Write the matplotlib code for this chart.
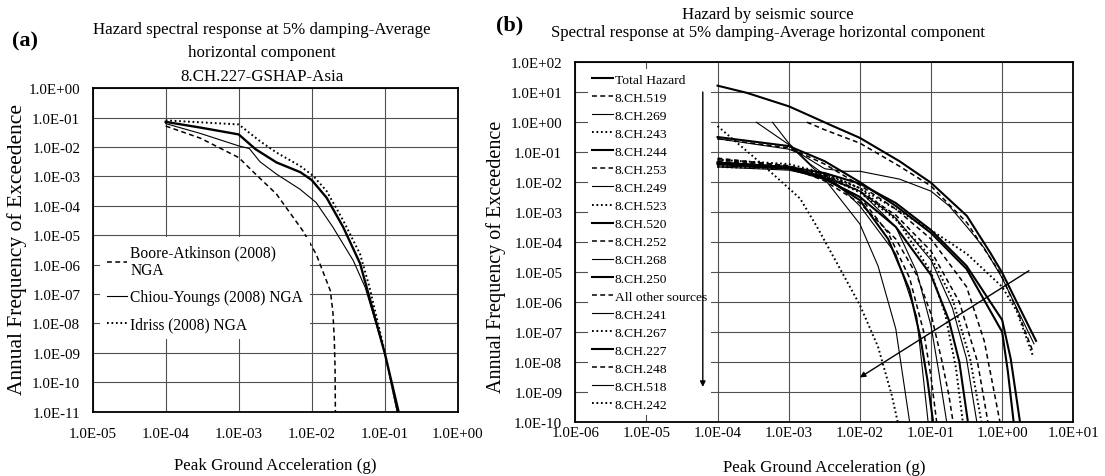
import numpy as np
import matplotlib.pyplot as plt
from matplotlib.ticker import FuncFormatter, NullLocator

plt.rcParams['font.family'] = ['Liberation Serif', 'DejaVu Serif']

# ---- panel (a): hazard curves for one source, three GMPEs + mean ----
ba_pga = [1e-4, 3e-4, 1e-3, 1.6e-3, 3.3e-3, 7.6e-3, 1.15e-2, 1.8e-2, 1.95e-2, 2.04e-2, 2.09e-2, 2.11e-2]
ba_afe = [5.2e-2, 2.0e-2, 4.4e-3, 1.4e-3, 2.5e-4, 1.4e-5, 2.3e-6, 1.3e-7, 2.5e-8, 3e-9, 3e-10, 1e-11]

cy_pga = [1e-4, 3e-4, 1e-3, 1.4e-3, 1.95e-3, 3.3e-3, 6.9e-3, 1.15e-2, 1.95e-2, 3.7e-2, 5.4e-2, 1e-1, 1.48e-1]
cy_afe = [6.3e-2, 2.9e-2, 1.1e-2, 8.9e-3, 3.2e-3, 1.2e-3, 3.7e-4, 1.3e-4, 1.9e-5, 1.4e-6, 1.7e-7, 1e-9, 1e-11]

id_pga = [1e-4, 1e-3, 1.95e-3, 3.3e-3, 6.9e-3, 1.05e-2, 1.6e-2, 2.7e-2, 4.6e-2, 6.2e-2, 1e-1, 1.5e-1]
id_afe = [8.1e-2, 5.9e-2, 1.6e-2, 6.5e-3, 2.3e-3, 1.05e-3, 3.2e-4, 3.2e-5, 2.3e-6, 1.7e-7, 1.1e-9, 1e-11]

mean_pga = [1e-4, 3e-4, 1e-3, 1.7e-3, 3.3e-3, 7e-3, 1e-2, 1.6e-2, 2.7e-2, 4.6e-2, 7e-2, 1e-1, 1.55e-1]
mean_afe = [7.2e-2, 4.6e-2, 2.7e-2, 8.5e-3, 3.0e-3, 1.4e-3, 7.6e-4, 1.9e-4, 1.9e-5, 1.1e-6, 2.5e-8, 1e-9, 1e-11]

# ---- panel (b): hazard by seismic source ----
total_pga = [1e-4, 2.6e-4, 1e-3, 1.45e-3, 4.2e-3, 1e-2, 3.6e-2, 1e-1, 3.2e-1, 6.8e-1, 1.0, 1.6, 2.45, 3.0]
total_afe = [16.6, 9.5, 3.4, 2.3, 0.74, 0.30, 5e-2, 9.5e-3, 7.4e-4, 4.4e-5, 9.5e-6, 1e-6, 1.3e-7, 5e-8]

s519_pga = [1.8e-3, 3.2e-3, 1e-2, 3.6e-2, 1e-1, 3.2e-1, 9.3e-1, 1.6, 2.75]
s519_afe = [1.0, 0.56, 0.2, 3.4e-2, 7.4e-3, 4.4e-4, 9.5e-6, 5.8e-7, 2e-8]

s269_pga = [1e-4, 1e-3, 1.45e-3, 3.2e-3, 6e-3, 1e-2, 3.6e-2, 1e-1, 1.8e-1, 3.2e-1, 5.6e-1, 1.0, 1.6, 2.8]
s269_afe = [0.28, 0.126, 8.9e-2, 2.8e-2, 2.3e-2, 2.3e-2, 1.26e-2, 5e-3, 1.6e-3, 3.2e-4, 6.3e-5, 6.3e-6, 6.3e-7, 4e-8]

s243_pga = [1e-4, 1e-3, 3.2e-3, 1e-2, 3.2e-2, 1e-1, 3.2e-1, 1.0, 1.6, 2.7]
s243_afe = [5.6e-2, 4e-2, 2e-2, 6.3e-3, 1.26e-3, 2.5e-4, 4e-5, 3.2e-6, 5e-7, 1.6e-8]

s244_pga = [1e-4, 1e-3, 3.2e-3, 1e-2, 2.5e-2, 5e-2, 7.1e-2, 8.9e-2, 0.107]
s244_afe = [4.5e-2, 3.2e-2, 1.4e-2, 2.5e-3, 1.26e-4, 2.5e-6, 6.3e-8, 2.5e-9, 1e-10]

s253_pga = [1e-4, 1e-3, 3.2e-3, 1e-2, 2.5e-2, 5e-2, 7.9e-2, 0.1, 0.12]
s253_afe = [6.3e-2, 3.5e-2, 1.26e-2, 3.2e-3, 2e-4, 6.3e-6, 1e-7, 3.2e-9, 1e-10]

s249_pga = [1e-4, 1e-3, 3.2e-3, 1e-2, 3.2e-2, 6.3e-2, 0.1, 0.13, 0.166]
s249_afe = [3.5e-2, 2.8e-2, 1.6e-2, 5e-3, 3.2e-4, 1e-5, 1.6e-7, 4e-9, 1e-10]

s523_pga = [1e-4, 1e-3, 3.2e-3, 1e-2, 3.2e-2, 0.1, 0.158, 0.224, 0.28]
s523_afe = [3.2e-2, 2.8e-2, 1.8e-2, 6.3e-3, 6.3e-4, 1e-5, 4e-7, 6.3e-9, 1e-10]

s520_pga = [1e-4, 1e-3, 3.2e-3, 1e-2, 3.2e-2, 0.1, 0.178, 0.25, 0.33]
s520_afe = [4e-2, 2.8e-2, 1.26e-2, 3.2e-3, 3.2e-4, 7.9e-6, 2.5e-7, 1e-8, 1e-10]

s252_pga = [1e-4, 1e-3, 3.2e-3, 1e-2, 3.2e-2, 6.3e-2, 0.1, 0.14, 0.178, 0.204]
s252_afe = [5e-2, 3.2e-2, 1.1e-2, 2e-3, 1.26e-4, 7.9e-6, 4e-7, 1.26e-8, 7.9e-10, 1e-10]

s268_pga = [1e-4, 1e-3, 3.2e-3, 1e-2, 3.2e-2, 0.1, 0.2, 0.316, 0.44]
s268_afe = [3.2e-2, 2.5e-2, 1.4e-2, 5e-3, 6.3e-4, 2.5e-5, 6.3e-7, 1.26e-8, 1e-10]

s250_pga = [1e-4, 1e-3, 3.2e-3, 1e-2, 3.2e-2, 0.1, 0.316, 1.0, 1.32, 1.78]
s250_afe = [4.5e-2, 3.2e-2, 2e-2, 8.9e-3, 2e-3, 2.5e-4, 1.6e-5, 2.5e-7, 1.26e-8, 1e-10]

other_pga = [1e-4, 1e-3, 3.2e-3, 1e-2, 3.2e-2, 0.1, 0.25, 0.45, 0.63]
other_afe = [5.6e-2, 3.5e-2, 1.8e-2, 5e-3, 7.9e-4, 5e-5, 1e-6, 1e-8, 1e-10]

s241_pga = [3.5e-4, 1e-3, 3.2e-3, 1e-2, 1.8e-2, 3.2e-2, 5e-2]
s241_afe = [1.0, 0.18, 1.26e-2, 4e-4, 1.6e-5, 1.26e-7, 1e-10]

s267_pga = [1e-4, 1e-3, 3.2e-3, 1e-2, 3.2e-2, 0.1, 0.2, 0.355, 0.51]
s267_afe = [3.5e-2, 3.2e-2, 1.6e-2, 4.5e-3, 5.6e-4, 3.2e-5, 1.26e-6, 1.26e-8, 1e-10]

s227_pga = [1e-4, 1e-3, 3.2e-3, 1e-2, 3.2e-2, 0.1, 0.316, 1.0, 1.2, 1.45]
s227_afe = [0.32, 0.16, 5e-2, 1e-2, 1.6e-3, 2e-4, 1.26e-5, 1e-7, 5e-9, 1e-10]

s248_pga = [1e-4, 1e-3, 3.2e-3, 1e-2, 3.2e-2, 0.1, 0.316, 0.56, 0.93]
s248_afe = [0.28, 0.14, 4e-2, 7.9e-3, 1.26e-3, 1.26e-4, 3.2e-6, 5e-8, 1e-10]

s518_pga = [5.9e-4, 1e-3, 2e-3, 5e-3, 1e-2, 3.2e-2, 6.3e-2, 9.1e-2]
s518_afe = [1.0, 0.2, 4e-2, 7.9e-3, 1.6e-3, 4e-5, 3.2e-7, 1e-10]

s242_pga = [1e-4, 3.2e-4, 1e-3, 1.45e-3, 2.5e-3, 5e-3, 1e-2, 1.8e-2, 2.8e-2, 3.4e-2]
s242_afe = [0.74, 7e-2, 6.3e-3, 2.8e-3, 3.2e-4, 1.6e-5, 7.9e-7, 3.2e-8, 7.9e-10, 1e-10]

# line styles (Excel-like): thick solid, thin solid, dashed, dotted
styles = {
    'thick': dict(ls='-', lw=1.5),
    'thin': dict(ls='-', lw=0.8),
    'dash': dict(ls=(0, (3.2, 2.2)), lw=1.1),
    'dot': dict(ls=(0, (0.9, 1.4)), lw=1.4),
}

sources = [
    ('Total Hazard', total_pga, total_afe, 'thick'),
    ('8.CH.519', s519_pga, s519_afe, 'dash'),
    ('8.CH.269', s269_pga, s269_afe, 'thin'),
    ('8.CH.243', s243_pga, s243_afe, 'dot'),
    ('8.CH.244', s244_pga, s244_afe, 'thick'),
    ('8.CH.253', s253_pga, s253_afe, 'dash'),
    ('8.CH.249', s249_pga, s249_afe, 'thin'),
    ('8.CH.523', s523_pga, s523_afe, 'dot'),
    ('8.CH.520', s520_pga, s520_afe, 'thick'),
    ('8.CH.252', s252_pga, s252_afe, 'dash'),
    ('8.CH.268', s268_pga, s268_afe, 'thin'),
    ('8.CH.250', s250_pga, s250_afe, 'thick'),
    ('All other sources', other_pga, other_afe, 'dash'),
    ('8.CH.241', s241_pga, s241_afe, 'thin'),
    ('8.CH.267', s267_pga, s267_afe, 'dot'),
    ('8.CH.227', s227_pga, s227_afe, 'thick'),
    ('8.CH.248', s248_pga, s248_afe, 'dash'),
    ('8.CH.518', s518_pga, s518_afe, 'thin'),
    ('8.CH.242', s242_pga, s242_afe, 'dot'),
]


def sci_label(v, pos):
    e = int(round(np.log10(v)))
    return "1.0E%+03d" % e


def style_axes(ax, xexp, yexp, xpad, ypad):
    ax.set_xscale('log')
    ax.set_yscale('log')
    ax.set_xlim(10.0 ** xexp[0], 10.0 ** xexp[1])
    ax.set_ylim(10.0 ** yexp[0], 10.0 ** yexp[1])
    ax.set_xticks([10.0 ** k for k in range(xexp[0], xexp[1] + 1)])
    ax.set_yticks([10.0 ** k for k in range(yexp[0], yexp[1] + 1)])
    ax.xaxis.set_minor_locator(NullLocator())
    ax.yaxis.set_minor_locator(NullLocator())
    ax.xaxis.set_major_formatter(FuncFormatter(sci_label))
    ax.yaxis.set_major_formatter(FuncFormatter(sci_label))
    ax.tick_params(length=0, labelsize=10.8)
    ax.tick_params(axis='x', pad=xpad)
    ax.tick_params(axis='y', pad=ypad)
    ax.grid(True, color='#505050', lw=0.8)
    for sp in ax.spines.values():
        sp.set_linewidth(1.3)
        sp.set_color('black')


fig = plt.figure(figsize=(11.05, 4.77), dpi=100)

# ---------------- (a) ----------------
axa = fig.add_axes([0.0839, 0.1348, 0.3303, 0.678])
style_axes(axa, (-5, 0), (-11, 0), 11, 9)
axa.plot(ba_pga, ba_afe, color='black', label='Boore-Atkinson (2008)\nNGA', **styles['dash'])
axa.plot(cy_pga, cy_afe, color='black', label='Chiou-Youngs (2008) NGA', **styles['thin'])
axa.plot(id_pga, id_afe, color='black', label='Idriss (2008) NGA', **styles['dot'])
axa.plot(mean_pga, mean_afe, color='black', ls='-', lw=1.7)
lega = axa.legend(loc='upper left', bbox_to_anchor=(0.02, 0.54), borderaxespad=0,
                  frameon=True, fancybox=False, edgecolor='none', facecolor='white',
                  framealpha=1, fontsize=11.2, handlelength=1.3, handletextpad=0.2,
                  labelspacing=0.7, borderpad=0.45)
axa.set_xlabel('Peak Ground Acceleration (g)', fontsize=12.2)
axa.xaxis.set_label_coords(0.5, -0.14)
axa.set_ylabel('Annual Frequency of Exceedence', fontsize=15.5)
axa.yaxis.set_label_coords(-0.18, 0.506)
fig.text(0.237, 0.888, 'Hazard spectral response at 5% damping-Average\nhorizontal component\n8.CH.227-GSHAP-Asia',
         ha='center', va='center', fontsize=12.2, linespacing=1.65)
fig.text(0.011, 0.914, '(a)', fontsize=16, fontweight='bold', ha='left', va='center')

# ---------------- (b) ----------------
axb = fig.add_axes([0.5206, 0.1138, 0.4507, 0.7535])
style_axes(axb, (-6, 1), (-10, 2), 3, 9.4)
for name, xs, ys, st in sources:
    axb.plot(xs, ys, color='black', label=name, **styles[st])
legb = axb.legend(loc='upper left', bbox_to_anchor=(0.0255, 0.981), borderaxespad=0,
                  frameon=True, fancybox=False, edgecolor='none', facecolor='white',
                  framealpha=1, fontsize=9.7, handlelength=1.55, handletextpad=0.15,
                  labelspacing=0.42, borderpad=0.3)

# arrows showing the order of the sources
arrow_down = ((6.2e-5, 10.2), (6.2e-5, 1.45e-9))
arrow_diag = ((2.38, 1.1e-5), (1.0e-2, 3.0e-9))
for start, end in (arrow_down, arrow_diag):
    axb.annotate('', xy=end, xytext=start, zorder=6,
                 arrowprops=dict(arrowstyle='-|>', color='black', lw=1.0,
                                 mutation_scale=8, shrinkA=0, shrinkB=0))

axb.set_xlabel('Peak Ground Acceleration (g)', fontsize=12.2)
axb.xaxis.set_label_coords(0.5, -0.104)
axb.set_ylabel('Annual Frequency of Exceedence', fontsize=14.5)
axb.yaxis.set_label_coords(-0.14, 0.461)
fig.text(0.695, 0.950, 'Hazard by seismic source\nSpectral response at 5% damping-Average horizontal component',
         ha='center', va='center', fontsize=12.1, linespacing=1.13)
fig.text(0.449, 0.946, '(b)', fontsize=16, fontweight='bold', ha='left', va='center')

fig.savefig('out.png', dpi=100)
